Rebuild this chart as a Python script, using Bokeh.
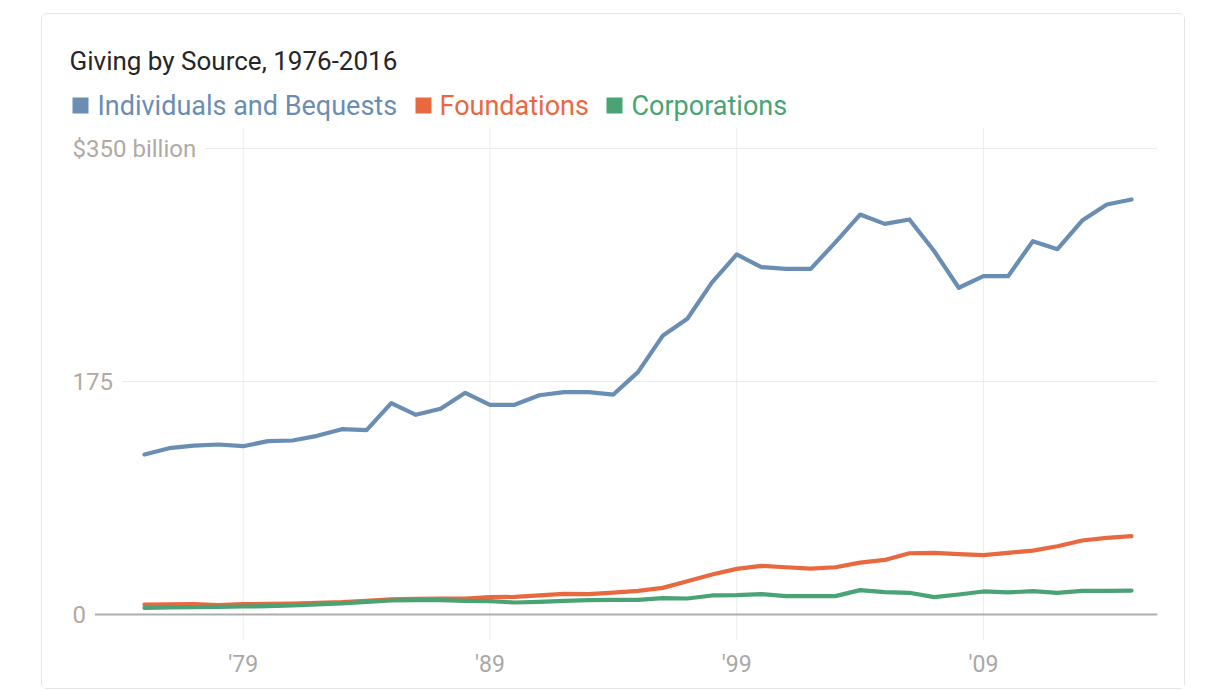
from bokeh.plotting import figure
from bokeh.models import Range1d, FixedTicker, Grid, Label, BoxAnnotation, ColumnDataSource
from bokeh.core.properties import value
from bokeh.embed import file_html
from bokeh.resources import INLINE

# ---------------- data ----------------
years = list(range(1976, 2017))

individuals = [120.2, 124.9, 126.9, 127.7, 126.4, 130.2, 130.7, 134.2, 139.2, 138.5,
               158.7, 150.0, 154.5, 166.5, 157.5, 157.5, 164.7, 167.0, 167.0, 165.2,
               182.0, 209.3, 222.1, 249.5, 270.4, 260.9, 259.6, 259.6, 279.5, 300.4,
               293.4, 296.7, 273.0, 245.4, 254.1, 254.1, 280.4, 274.4, 295.9, 307.9,
               311.7]

foundations = [7.5, 7.6, 7.8, 7.0, 7.8, 8.0, 8.2, 8.8, 9.3, 10.3,
               11.3, 11.8, 12.0, 12.0, 13.0, 13.2, 14.3, 15.5, 15.3, 16.5,
               17.8, 20.0, 25.0, 30.0, 34.3, 36.5, 35.5, 34.5, 35.5, 39.0,
               41.0, 46.0, 46.3, 45.3, 44.6, 46.3, 48.0, 51.3, 55.6, 57.6,
               58.8]

corporations = [5.0, 5.3, 5.5, 5.7, 6.0, 6.3, 6.8, 7.5, 8.3, 9.5,
                10.5, 10.8, 10.8, 10.3, 10.0, 9.0, 9.5, 10.3, 10.8, 11.0,
                11.0, 12.3, 12.0, 14.3, 14.5, 15.3, 13.8, 13.8, 13.8, 18.3,
                16.8, 16.3, 13.0, 15.0, 17.3, 16.6, 17.5, 16.3, 17.8, 17.8,
                18.0]

series_names = ["Individuals and Bequests", "Foundations", "Corporations"]
series_values = [individuals, foundations, corporations]
series_colors = ["#6a8db3", "#e8693f", "#4aa374"]

x_ticks = [1980, 1990, 2000, 2010]
x_tick_labels = ["'79", "'89", "'99", "'09"]
y_ticks = [0, 175, 350]
y_tick_labels = ["0", "175", "$350 billion"]
title_text = "Giving by Source, 1976-2016"

# ---------------- layout helpers (page pixel -> data) ----------------
PXX = (1131 - 144) / 40.0          # pixels per year
PXY = (614 - 148) / 350.0          # pixels per billion


def xdata(px):
    return 1976 + (px - 144) / PXX


def ydata(py):
    return (614 - py) / PXY


X0, X1 = xdata(70), xdata(1157)
Y0, Y1 = ydata(640), ydata(20)
GRID_TOP = ydata(127)
FONT = "Roboto"
LABEL_PAD = 9

p = figure(width=1144, height=676,
           x_range=Range1d(X0, X1), y_range=Range1d(Y0, Y1),
           y_axis_location=None,
           output_backend="svg", toolbar_location=None,
           min_border_left=28, min_border_right=29,
           min_border_top=6, min_border_bottom=50)
p.outline_line_color = None
p.background_fill_color = "white"
p.border_fill_color = "white"
p.styles = {"margin-left": "41px", "margin-top": "13px",
            "border": "1px solid #e4e4e4", "border-radius": "6px"}

# remove default grids
p.center = [r for r in p.center if not isinstance(r, Grid)]

# x axis
p.xaxis.ticker = FixedTicker(ticks=x_ticks)
p.xaxis.major_label_overrides = dict(zip(x_ticks, x_tick_labels))
p.xaxis.axis_line_color = None
p.xaxis.major_tick_line_color = None
p.xaxis.minor_tick_line_color = None
p.xaxis.major_label_text_font = FONT
p.xaxis.major_label_text_font_size = "23px"
p.xaxis.major_label_text_color = "#a8a8a8"
p.xaxis.major_label_standoff = 4

# vertical gridlines (stop at the top of the value area)
p.segment(x0=x_ticks, y0=[Y0] * len(x_ticks), x1=x_ticks, y1=[GRID_TOP] * len(x_ticks),
          line_color="#ececec", line_width=1, level="underlay")

# horizontal gridlines and baseline
p.add_layout(Grid(dimension=1, ticker=FixedTicker(ticks=[t for t in y_ticks if t != 0]),
                  grid_line_color="#ececec", grid_line_width=1))
p.add_layout(Grid(dimension=1, ticker=FixedTicker(ticks=[0]),
                  grid_line_color="#adadad", grid_line_width=2))

# lines
for vals, col in zip(series_values, series_colors):
    p.line(years, vals, line_width=4.2, line_color=col, line_join="round", line_cap="round")

# y tick labels (inside the plot, with white background over gridlines)
ysrc = ColumnDataSource(dict(x=[xdata(72 - LABEL_PAD)] * len(y_ticks), y=y_ticks,
                             text=y_tick_labels))
p.text(x="x", y="y", text="text", source=ysrc,
       text_align="left", text_baseline="middle",
       text_font=value(FONT), text_font_size="24px", text_color="#b0aaa3",
       background_fill_color="white", padding=LABEL_PAD)

# title
p.add_layout(Label(x=xdata(69), y=ydata(60), text=title_text, text_font=FONT,
                   text_font_size="26px", text_color="#262626", text_baseline="middle"))

# legend
sq_left = [72, 415, 606]
txt_left = [97, 439, 631]
for name, col, sl, tl in zip(series_names, series_colors, sq_left, txt_left):
    p.add_layout(BoxAnnotation(left=xdata(sl), right=xdata(sl + 16),
                               bottom=ydata(113), top=ydata(97),
                               fill_color=col, fill_alpha=1.0, line_color=None))
    p.add_layout(Label(x=xdata(tl), y=ydata(105), text=name, text_font=FONT,
                       text_font_size="27px", text_color=col, text_baseline="middle"))

open("out.html", "w").write(file_html(p, INLINE))
